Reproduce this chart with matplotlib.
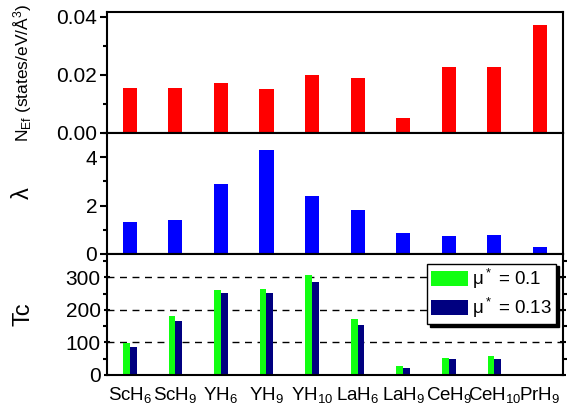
import numpy as np
import matplotlib.pyplot as plt
from matplotlib.ticker import MultipleLocator

plt.rcParams['font.family'] = ['Liberation Sans', 'DejaVu Sans']
plt.rcParams['mathtext.fontset'] = 'custom'
plt.rcParams['mathtext.rm'] = 'Liberation Sans'
plt.rcParams['mathtext.it'] = 'Liberation Sans:italic'
plt.rcParams['mathtext.default'] = 'rm'

compounds = [r'ScH$_6$', r'ScH$_9$', r'YH$_6$', r'YH$_9$', r'YH$_{10}$',
             r'LaH$_6$', r'LaH$_9$', r'CeH$_9$', r'CeH$_{10}$', r'PrH$_9$']
n_ef = [0.0155, 0.0156, 0.0172, 0.0152, 0.0199, 0.0188, 0.0053, 0.0228, 0.0227, 0.0373]
lam = [1.34, 1.39, 2.91, 4.31, 2.40, 1.81, 0.88, 0.76, 0.79, 0.27]
tc_mu010 = [98, 180, 262, 265, 308, 171, 26, 53, 58, 0]
tc_mu013 = [86, 167, 251, 253, 287, 155, 21, 48, 50, 0]

x = np.arange(len(compounds))

fig, (ax1, ax2, ax3) = plt.subplots(3, 1, sharex=True, figsize=(5.69, 4.12), dpi=100)
fig.subplots_adjust(left=0.188, right=0.989, top=0.971, bottom=0.090, hspace=0)

ax1.bar(x, n_ef, width=0.31, color='#ff0000')
ax2.bar(x, lam, width=0.31, color='#0000ff')
ax3.bar(x - 0.075, tc_mu010, width=0.15, color='#11ff11', label=r'$\mu^*$ = 0.1')
ax3.bar(x + 0.075, tc_mu013, width=0.15, color='#000080', label=r'$\mu^*$ = 0.13')

ax1.set_ylim(0, 0.0417)
ax1.yaxis.set_minor_locator(MultipleLocator(0.01))
ax1.set_yticks([0, 0.02, 0.04], ['0.00', '0.02', '0.04'])

ax2.set_ylim(0, 5.0)
ax2.yaxis.set_major_locator(MultipleLocator(2))
ax2.yaxis.set_minor_locator(MultipleLocator(1))

ax3.set_ylim(0, 372)
ax3.yaxis.set_major_locator(MultipleLocator(100))
ax3.yaxis.set_minor_locator(MultipleLocator(50))
for yv in (100, 200, 300):
    ax3.axhline(yv, color='black', linestyle=(0, (5, 4)), linewidth=1.0, zorder=0)

ax3.set_xlim(-0.5, len(compounds) - 0.5)
ax3.set_xticks(x, compounds)

for ax in (ax1, ax2, ax3):
    for sp in ax.spines.values():
        sp.set_linewidth(1.5)
    ax.tick_params(axis='y', which='major', direction='out', length=5, width=1.5, labelsize=15, pad=2)
    ax.tick_params(axis='y', which='minor', direction='out', length=3, width=1.5)
    ax.tick_params(axis='x', length=0, labelsize=13.5, pad=7)

# mirrored ticks on the right of the Tc panel
ax3.tick_params(axis='y', which='both', right=True, labelright=False)
ax3.tick_params(axis='y', which='major', direction='inout', length=5)

ax1.set_ylabel(r'N$_{Ef}$ (states/eV/$\AA^3$)', fontsize=12.5)
ax2.set_ylabel(r'$\lambda$', fontsize=17)
ax3.set_ylabel('Tc', fontsize=17)
for ax in (ax1, ax2, ax3):
    ax.yaxis.set_label_coords(-0.16, 0.5)

ax3.legend(loc='upper right', bbox_to_anchor=(0.985, 0.92), fontsize=13.5, handlelength=2.0,
           handleheight=0.85, fancybox=False, framealpha=1, edgecolor='black',
           borderpad=0.2, labelspacing=0.25, handletextpad=0.2, borderaxespad=0,
           shadow={'color': 'black', 'alpha': 1})

fig.savefig('out.png', dpi=100)
